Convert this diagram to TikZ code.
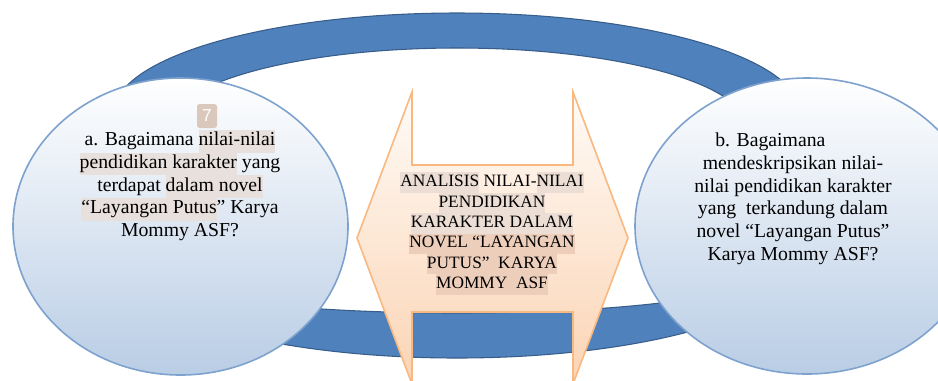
\documentclass[tikz,border=0pt]{standalone}
\usepackage{fontspec}
\setmainfont{Liberation Serif}
\newfontfamily\badgefont{Liberation Sans}
\usepackage{xcolor}
\usepackage{tikz}
\usetikzlibrary{shapes.geometric}
\definecolor{ringblue}{RGB}{79,129,189}
\definecolor{ringedge}{RGB}{56,93,138}
\definecolor{circlebot}{RGB}{185,205,229}
\definecolor{circleedge}{RGB}{126,162,206}
\definecolor{arrowtop}{RGB}{255,251,247}
\definecolor{arrowbot}{RGB}{251,212,180}
\definecolor{arrowedge}{RGB}{248,184,128}
\definecolor{hlgray}{RGB}{232,224,220}
\definecolor{hlpeach}{RGB}{236,222,212}
\definecolor{hlpeachdark}{RGB}{237,206,186}
\definecolor{badgecol}{RGB}{218,200,188}
\newcommand{\hilite}[1]{{\fboxsep=0pt\colorbox{hlgray}{\strut#1}}}
\newcommand{\hilitep}[1]{{\fboxsep=0pt\colorbox{hlpeach}{\strut#1}}}
\newcommand{\hilitq}[1]{{\fboxsep=0pt\colorbox{hlpeachdark}{\strut#1}}}
\tikzset{
  bubble/.style={ellipse, draw=circleedge, line width=1.2pt, top color=white, bottom color=circlebot, inner sep=0pt},
  qtext/.style={align=center, anchor=north, inner sep=0pt, font=\fontsize{14.8}{17}\selectfont},
  ctext/.style={align=center, anchor=north, inner sep=0pt, font=\fontsize{13}{15.3}\selectfont},
  badge/.style={fill=badgecol, rounded corners=2pt, text=white, minimum width=15pt, minimum height=18pt, inner sep=0pt, font=\badgefont\fontsize{13}{13}\selectfont}
}

\begin{document}
\begin{tikzpicture}[x=0.75pt, y=-0.75pt]
    \useasboundingbox (0,0) rectangle (938,380);

    \draw[fill=ringblue, draw=ringedge, line width=0.8pt, even odd rule]
        (114,258) -- (114,113) arc[start angle=180, end angle=360, x radius=343, y radius=100]
        -- (800,258) arc[start angle=0, end angle=180, x radius=343, y radius=100] -- cycle
        (167,278) -- (167,128) arc[start angle=180, end angle=360, x radius=290, y radius=80]
        -- (747,278) arc[start angle=0, end angle=180, x radius=290, y radius=35] -- cycle;

    \node[bubble, minimum width=251.25pt, minimum height=222.75pt] (qa) at (180.5,226.5) {};
    \node[bubble, minimum width=258pt, minimum height=222pt] (qb) at (807,226) {};

    \draw[draw=arrowedge, line width=1.2pt, top color=arrowtop, bottom color=arrowbot]
        (357,238) -- (412,92) -- (412,165) -- (573,165) -- (573,92) -- (628,238)
        -- (573,384) -- (573,312) -- (412,312) -- (412,384) -- cycle;

    \node[badge] (num) at (207,116) {7};

    \node[qtext] (qatext) at (180,129.6) {\strut a. Bagaimana \hilite{nilai-nilai}\\
        \hilite{pendidikan karakter} yang\\
        terdapat \hilite{dalam novel}\\
        \hilite{“Layangan Putus}” Karya\\
        Mommy ASF?};

    \node[qtext] (qbtext) at (793,130.6) {\strut b. Bagaimana\hspace{34pt}\null\\
        mendeskripsikan nilai-\\
        nilai pendidikan karakter\\
        yang\ \ terkandung dalam\\
        novel “Layangan Putus”\\
        Karya Mommy ASF?};

    \node[ctext] (title) at (492,172.2) {\hilitep{ANALISIS} NILAI-\hilitep{NILAI}\\
        \hilitep{PENDIDIKAN}\\
        \hilitep{KARAKTER DALAM}\\
        \hilitq{NOVEL “LAYANGAN}\\
        \hilitq{PUTUS”\ \ KARYA}\\
        \hilitq{MOMMY\ \ ASF}};
\end{tikzpicture}
\end{document}
